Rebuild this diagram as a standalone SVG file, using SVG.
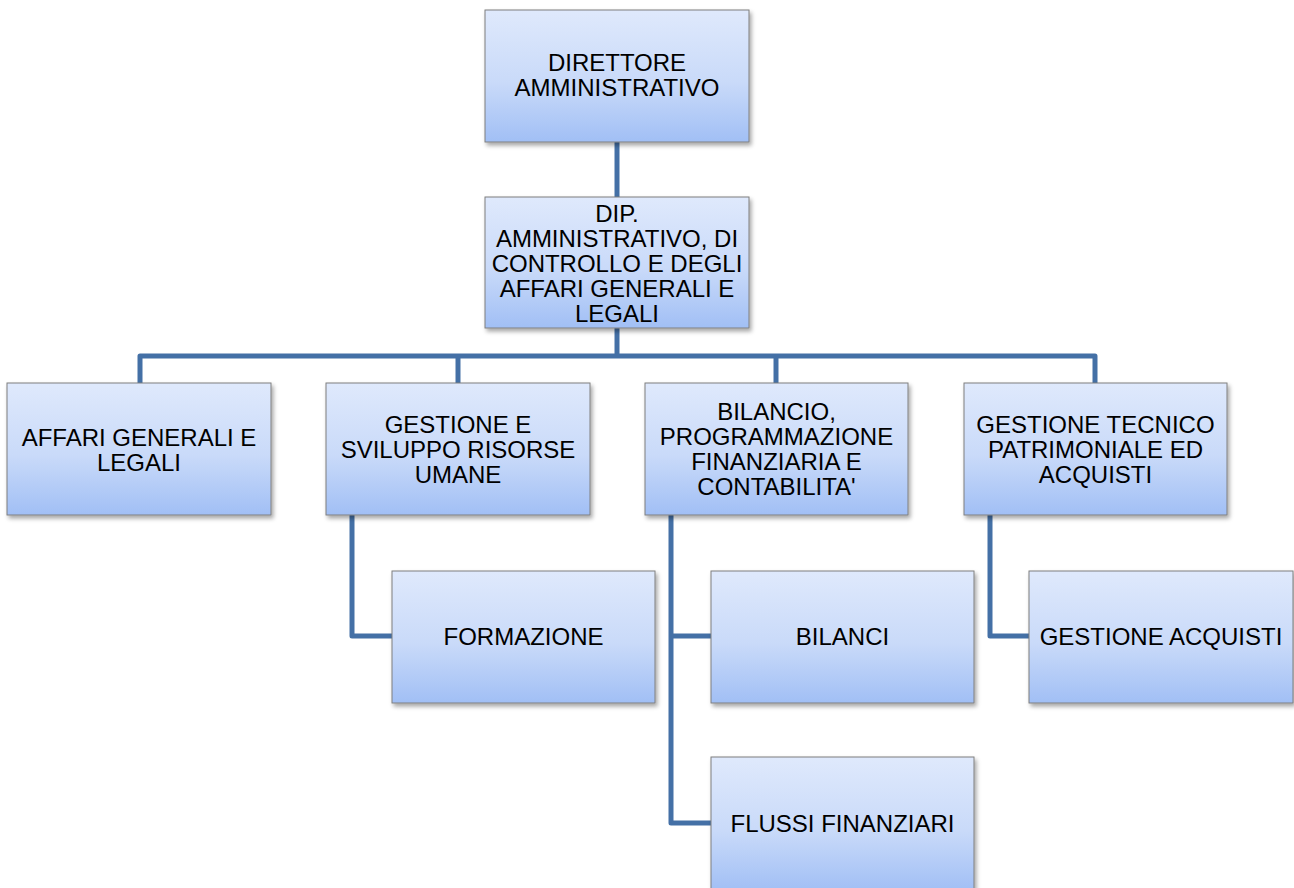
<svg xmlns="http://www.w3.org/2000/svg" width="1294" height="888" viewBox="0 0 1294 888">
<defs>
<linearGradient id="g" x1="0" y1="0" x2="0" y2="1">
<stop offset="0" stop-color="#dfe9fc"/>
<stop offset="0.55" stop-color="#c9daf9"/>
<stop offset="1" stop-color="#a1bff5"/>
</linearGradient>
<filter id="sh" x="-10%" y="-10%" width="125%" height="130%">
<feDropShadow dx="2" dy="3" stdDeviation="2" flood-color="#000" flood-opacity="0.35"/>
</filter>
</defs>
<style>
.box{fill:url(#g);stroke:#7f7f7f;stroke-width:1;filter:url(#sh)}
.t{font-family:"Liberation Sans",Arial,sans-serif;font-size:24px;fill:#000;text-anchor:middle}
.c{fill:none;stroke:#4470a6;stroke-width:5;stroke-linejoin:round}
</style>
<rect width="1294" height="888" fill="#fff"/>
<g id="connectors">
<path class="c" d="M617 142V197"/>
<path class="c" d="M617 328V356"/>
<path class="c" d="M140 383V356H1095V383"/>
<path class="c" d="M458 356V383"/>
<path class="c" d="M776 356V383"/>
<path class="c" d="M352 515V636H392"/>
<path class="c" d="M671 515V823H711"/>
<path class="c" d="M671 636H711"/>
<path class="c" d="M990 515V636H1029"/>
</g>
<g id="n-direttore">
<rect class="box" x="485" y="10" width="264" height="132"/>
<text class="t" x="617" y="71">DIRETTORE</text>
<text class="t" x="617" y="96">AMMINISTRATIVO</text>
</g>
<g id="n-dip">
<rect class="box" x="485" y="197" width="264" height="131"/>
<text class="t" x="617" y="222">DIP.</text>
<text class="t" x="617" y="247">AMMINISTRATIVO, DI</text>
<text class="t" x="617" y="272">CONTROLLO E DEGLI</text>
<text class="t" x="617" y="297">AFFARI GENERALI E</text>
<text class="t" x="617" y="322">LEGALI</text>
</g>
<g id="n-affari">
<rect class="box" x="7" y="383" width="264" height="132"/>
<text class="t" x="139" y="446">AFFARI GENERALI E</text>
<text class="t" x="139" y="471">LEGALI</text>
</g>
<g id="n-risorse">
<rect class="box" x="326" y="383" width="264" height="132"/>
<text class="t" x="458" y="433">GESTIONE E</text>
<text class="t" x="458" y="458">SVILUPPO RISORSE</text>
<text class="t" x="458" y="483">UMANE</text>
</g>
<g id="n-bilancio">
<rect class="box" x="645" y="383" width="263" height="132"/>
<text class="t" x="776.5" y="420">BILANCIO,</text>
<text class="t" x="776.5" y="445">PROGRAMMAZIONE</text>
<text class="t" x="776.5" y="470">FINANZIARIA E</text>
<text class="t" x="776.5" y="495">CONTABILITA'</text>
</g>
<g id="n-tecnico">
<rect class="box" x="964" y="383" width="263" height="132"/>
<text class="t" x="1095.5" y="433">GESTIONE TECNICO</text>
<text class="t" x="1095.5" y="458">PATRIMONIALE ED</text>
<text class="t" x="1095.5" y="483">ACQUISTI</text>
</g>
<g id="n-formazione">
<rect class="box" x="392" y="571" width="263" height="132"/>
<text class="t" x="523.5" y="645">FORMAZIONE</text>
</g>
<g id="n-bilanci">
<rect class="box" x="711" y="571" width="263" height="132"/>
<text class="t" x="842.5" y="645">BILANCI</text>
</g>
<g id="n-acquisti">
<rect class="box" x="1029" y="571" width="264" height="132"/>
<text class="t" x="1161" y="645">GESTIONE ACQUISTI</text>
</g>
<g id="n-flussi">
<rect class="box" x="711" y="757" width="263" height="134"/>
<text class="t" x="842.5" y="832">FLUSSI FINANZIARI</text>
</g>
</svg>
